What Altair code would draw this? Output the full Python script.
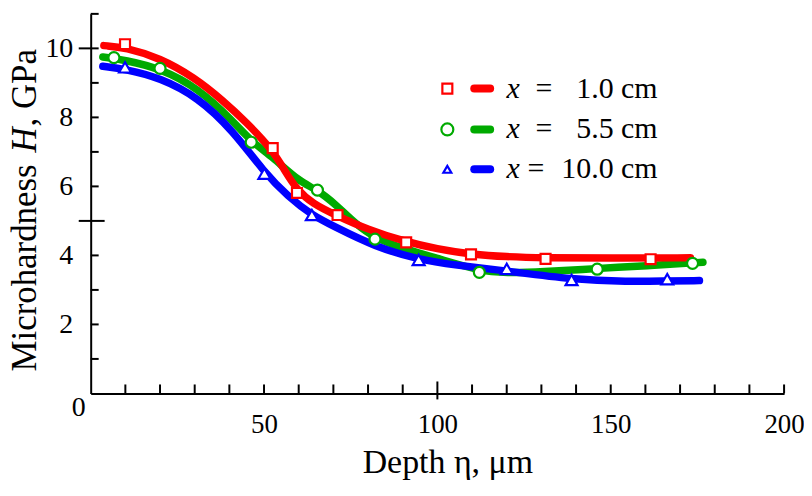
import altair as alt
import pandas as pd

FONT = "Liberation Serif"

series_names = ["x = 1.0 cm", "x = 5.5 cm", "x = 10.0 cm"]
legend_values = ["1.0 cm", "5.5 cm", "10.0 cm"]
series_colors = ["#ff0000", "#00aa00", "#0000ff"]
series_shapes = ["square", "circle", "triangle-up"]

# measured points
red_pts_x = [9.9, 52.5, 59.5, 71.2, 91.0, 109.7, 131.2, 161.5]
red_pts_y = [10.12, 7.11, 5.81, 5.17, 4.38, 4.03, 3.90, 3.89]
green_pts_x = [6.7, 20.0, 46.3, 65.4, 82.0, 112.1, 146.1, 173.6]
green_pts_y = [9.73, 9.42, 7.28, 5.89, 4.47, 3.51, 3.60, 3.77]
blue_pts_x = [9.9, 50.1, 63.8, 94.6, 120.0, 138.7, 166.3]
blue_pts_y = [9.45, 6.37, 5.17, 3.87, 3.61, 3.29, 3.31]

# fitted curves
red_curve_x = [3.8, 10, 20, 30, 38, 45, 52.5, 56, 59.5, 64, 71, 80, 90, 100, 110, 120, 130, 150, 173]
red_curve_y = [10.08, 10.03, 9.72, 9.15, 8.5, 7.85, 7.05, 6.45, 5.9, 5.5, 5.15, 4.75, 4.42, 4.18, 4.03, 3.96, 3.93, 3.92, 3.93]
green_curve_x = [3.5, 10, 20, 31, 41, 46.3, 52.5, 60, 65.4, 71, 76, 82, 90, 100, 112, 120, 130, 146, 160, 176.6]
green_curve_y = [9.75, 9.66, 9.42, 8.85, 7.9, 7.3, 6.85, 6.15, 5.9, 5.45, 4.95, 4.5, 4.2, 3.92, 3.55, 3.49, 3.52, 3.62, 3.7, 3.8]
blue_curve_x = [3.5, 10, 20, 31, 41, 50.1, 57, 63.8, 70, 82, 94.6, 105, 120, 139, 155, 166, 175.6]
blue_curve_y = [9.48, 9.4, 9.15, 8.58, 7.62, 6.4, 5.7, 5.17, 4.85, 4.25, 3.88, 3.72, 3.55, 3.3, 3.24, 3.26, 3.27]

x_tick_labels = [50, 100, 150, 200]
y_tick_labels = [2, 4, 6, 8, 10]
x_minor_ticks = [v for v in range(10, 201, 10) if v != 100]
x_long_ticks = [100]
y_minor_ticks = [v for v in range(1, 12) if v not in (5, 10)]

W, H = 696, 381

pts_sets = [(red_pts_x, red_pts_y), (green_pts_x, green_pts_y), (blue_pts_x, blue_pts_y)]
curve_sets = [(red_curve_x, red_curve_y), (green_curve_x, green_curve_y), (blue_curve_x, blue_curve_y)]

pts_rows, curve_rows = [], []
for name, (xs, ys) in zip(series_names, pts_sets):
    for a, b in zip(xs, ys):
        pts_rows.append({"depth": a, "H": b, "series": name})
for name, (xs, ys) in zip(series_names, curve_sets):
    for a, b in zip(xs, ys):
        curve_rows.append({"depth": a, "H": b, "series": name})
pts_df = pd.DataFrame(pts_rows)
curve_df = pd.DataFrame(curve_rows)

xscale = alt.Scale(domain=[0, 200], nice=False, zero=False)
yscale = alt.Scale(domain=[0, 11], nice=False, zero=False)
cscale = alt.Scale(domain=series_names, range=series_colors)

x_axis = alt.Axis(values=x_tick_labels, domain=True, domainColor="black", domainWidth=2,
                  ticks=False, tickSize=0, grid=False, labelFont=FONT, labelFontSize=27,
                  labelColor="black", labelPadding=18, labelFlush=False,
                  title="Depth η, μm", titleFont=FONT, titleFontSize=34, titleFontWeight="normal",
                  titleColor="black", titleX=358, titleY=79, titleBaseline="alphabetic")
y_axis = alt.Axis(values=y_tick_labels, domain=True, domainColor="black", domainWidth=2,
                  ticks=False, tickSize=0, grid=False, labelFont=FONT, labelFontSize=28,
                  labelColor="black", labelPadding=18, labelFlush=False, title=None)


def X(field):
    return alt.X(field, scale=xscale, axis=x_axis)


def Y(field):
    return alt.Y(field, scale=yscale, axis=y_axis)


layers = []
# curves, drawn green, blue, red so red on top
for name in [series_names[1], series_names[2], series_names[0]]:
    layers.append(
        alt.Chart(curve_df[curve_df.series == name]).mark_line(
            strokeWidth=7.5, strokeCap="round", strokeJoin="round", interpolate="basis"
        ).encode(
            x=X("depth:Q"),
            y=Y("H:Q"),
            color=alt.Color("series:N", scale=cscale, legend=None),
        )
    )

size_scale = alt.Scale(domain=series_names, range=[100, 144, 49])
layers.append(
    alt.Chart(pts_df).mark_point(filled=False, strokeWidth=2.2, opacity=1, fill="white", fillOpacity=1).encode(
        x=X("depth:Q"),
        y=Y("H:Q"),
        stroke=alt.Stroke("series:N", scale=cscale, legend=None),
        shape=alt.Shape("series:N", scale=alt.Scale(domain=series_names, range=series_shapes), legend=None),
        size=alt.Size("series:N", scale=size_scale, legend=None),
    )
)


# tick marks
def vrules(vals, y_top, y_bot):
    return alt.Chart(pd.DataFrame({"depth": vals})).mark_rule(color="black", strokeWidth=2).encode(
        x=X("depth:Q"), y=alt.value(y_top), y2=alt.value(y_bot))


def hrules(vals, x_l, x_r):
    return alt.Chart(pd.DataFrame({"H": vals})).mark_rule(color="black", strokeWidth=2).encode(
        y=Y("H:Q"), x=alt.value(x_l), x2=alt.value(x_r))


layers.append(vrules(x_minor_ticks, H - 9, H))
layers.append(vrules(x_long_ticks, H - 12, H + 6))
layers.append(hrules(y_minor_ticks, 0, 8))
layers.append(hrules([5], -12, 14))
layers.append(hrules([10], -12, 8))

one = alt.Data(values=[{"a": 1}])

# origin label
layers.append(alt.Chart(one).mark_text(text="0", font=FONT, fontSize=28, color="black",
                                       align="center", baseline="middle").encode(
    x=alt.value(-12), y=alt.value(396)))

# y title with italic H (rotated)
yt_x = -55
for txt, ypos, style in [("Microhardness ", 359, "normal"), ("H", 136.1, "italic"), (", GPa", 110.1, "normal")]:
    layers.append(alt.Chart(one).mark_text(text=txt, font=FONT, fontSize=35, fontStyle=style,
                                           color="black", angle=270, align="left",
                                           baseline="alphabetic").encode(
        x=alt.value(yt_x), y=alt.value(ypos + (0 if style == "normal" and txt.startswith("M") else 3))))

# legend
row_y = [84, 125, 165]
eq_x = [455, 455, 447]
for i in range(3):
    by = row_y[i]
    my = by - 9
    layers.append(alt.Chart(one).mark_point(shape=series_shapes[i], filled=False, fill="white",
                                            fillOpacity=1, opacity=1, stroke=series_colors[i],
                                            strokeWidth=2.2,
                                            size=[100, 144, 64][i]).encode(
        x=alt.value(358), y=alt.value(my)))
    layers.append(alt.Chart(one).mark_rule(color=series_colors[i], strokeWidth=8, strokeCap="round").encode(
        x=alt.value(385), x2=alt.value(401), y=alt.value(my)))
    layers.append(alt.Chart(one).mark_text(text="x", font=FONT, fontSize=30, fontStyle="italic",
                                           color="black", align="center", baseline="alphabetic").encode(
        x=alt.value(424), y=alt.value(by)))
    layers.append(alt.Chart(one).mark_text(text="=", font=FONT, fontSize=30,
                                           color="black", align="center", baseline="alphabetic").encode(
        x=alt.value(eq_x[i]), y=alt.value(by)))
    layers.append(alt.Chart(one).mark_text(text=legend_values[i], font=FONT, fontSize=30,
                                           color="black", align="right", baseline="alphabetic").encode(
        x=alt.value(569), y=alt.value(by)))

chart = alt.layer(*layers).properties(
    width=W, height=H,
    padding={"left": 83, "top": 5, "right": 20, "bottom": 86},
    autosize=alt.AutoSizeParams(type="none"),
    background="white",
).configure_view(stroke=None)

chart.save("out.html", embed_options={"renderer": "svg", "actions": False})
